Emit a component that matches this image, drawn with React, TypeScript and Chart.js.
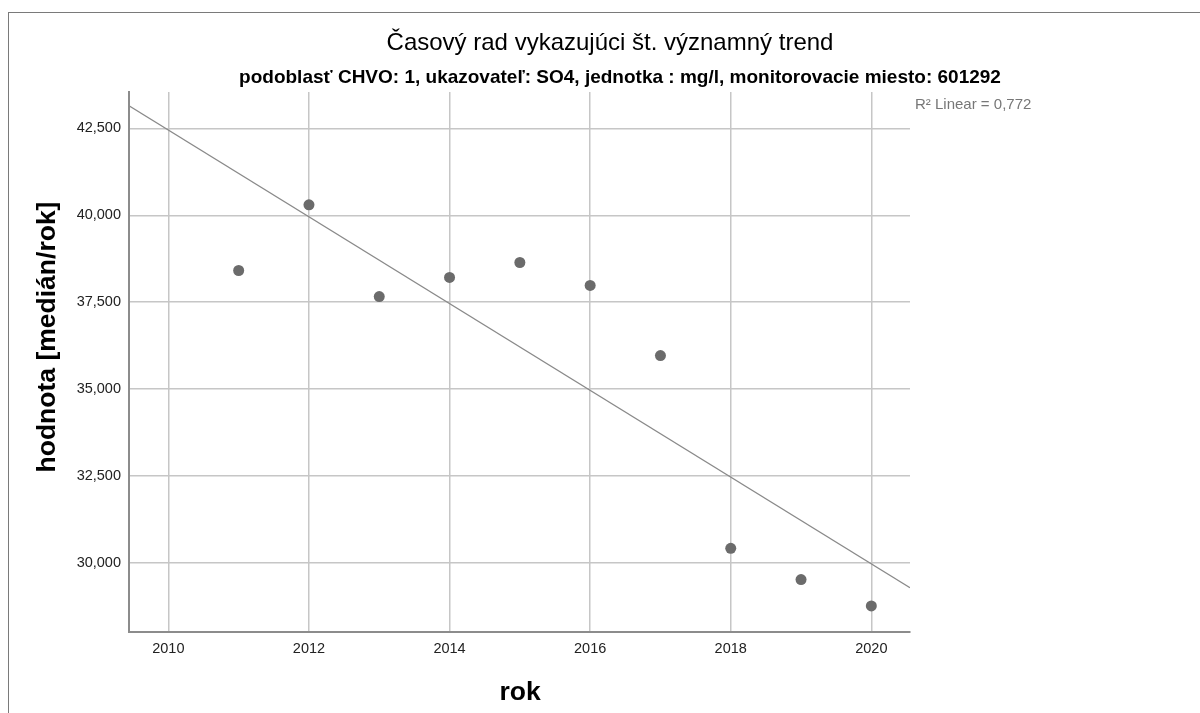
import React, { useEffect, useRef } from "react";
import { Chart, registerables } from "chart.js";

Chart.register(...registerables);

const years = [2011, 2012, 2013, 2014, 2015, 2016, 2017, 2018, 2019, 2020];
const values = [38.41, 40.3, 37.66, 38.21, 38.64, 37.98, 35.96, 30.41, 29.51, 28.75];
const yTicks = [30, 32.5, 35, 37.5, 40, 42.5];
const xTicks = [2010, 2012, 2014, 2016, 2018, 2020];
const titleText = "Časový rad vykazujúci št. významný trend";
const subtitleText =
  "podoblasť CHVO: 1, ukazovateľ: SO4, jednotka : mg/l, monitorovacie miesto: 601292";
const r2Label = "R² Linear = 0,772";
const xTitle = "rok";
const yTitle = "hodnota [medián/rok]";

const X_MIN = 2009.44;
const X_MAX = 2020.55;
const Y_MIN = 28.0;
const Y_MAX = 43.55;
const FONT = "'Liberation Sans', Arial, sans-serif";

function fit(xs: number[], ys: number[]) {
  const n = xs.length;
  const mx = xs.reduce((a, b) => a + b, 0) / n;
  const my = ys.reduce((a, b) => a + b, 0) / n;
  let sxx = 0;
  let sxy = 0;
  for (let i = 0; i < n; i++) {
    sxx += (xs[i] - mx) * (xs[i] - mx);
    sxy += (xs[i] - mx) * (ys[i] - my);
  }
  const slope = sxy / sxx;
  return { slope, intercept: my - slope * mx };
}

const textPlugin = {
  id: "textPlugin",
  afterDraw(chart: any) {
    const ctx = chart.ctx;
    ctx.save();
    ctx.fillStyle = "#000";
    ctx.textAlign = "center";
    ctx.textBaseline = "alphabetic";
    ctx.font = `24px ${FONT}`;
    ctx.fillText(titleText, 610, 50);
    ctx.font = `bold 19px ${FONT}`;
    ctx.fillText(subtitleText, 620, 83);
    // axis titles
    ctx.font = `bold 26.5px ${FONT}`;
    ctx.fillText(xTitle, 520, 700);
    ctx.save();
    ctx.translate(55, 337);
    ctx.rotate(-Math.PI / 2);
    ctx.fillText(yTitle, 0, 0);
    ctx.restore();
    // R² label
    ctx.textAlign = "left";
    ctx.textBaseline = "middle";
    ctx.fillStyle = "#777";
    ctx.font = `15px ${FONT}`;
    ctx.fillText(r2Label, 915, 105);
    ctx.restore();
  },
};

export default function App() {
  const ref = useRef<HTMLCanvasElement | null>(null);

  useEffect(() => {
    document.body.style.overflow = "hidden";
    const canvas = ref.current;
    if (!canvas) return;
    const { slope, intercept } = fit(years, values);
    const trend = [
      { x: X_MIN, y: intercept + slope * X_MIN },
      { x: X_MAX, y: intercept + slope * X_MAX },
    ];
    const points = years.map((x, i) => ({ x, y: values[i] }));

    const chart = new Chart(canvas, {
      type: "scatter",
      data: {
        datasets: [
          {
            type: "scatter",
            data: points,
            pointRadius: 5.5,
            pointHoverRadius: 5.5,
            pointBackgroundColor: "#6b6b6b",
            pointBorderWidth: 0,
            order: 1,
          },
          {
            type: "line",
            data: trend,
            borderColor: "#8a8a8a",
            borderWidth: 1.3,
            pointRadius: 0,
            fill: false,
            order: 2,
          },
        ],
      },
      options: {
        responsive: false,
        animation: false,
        devicePixelRatio: 1,
        layout: { padding: { left: 0, top: 92, right: 290, bottom: 0 } },
        plugins: {
          legend: { display: false },
          title: { display: false },
          tooltip: { enabled: false },
        },
        scales: {
          x: {
            type: "linear",
            min: X_MIN,
            max: X_MAX,
            afterBuildTicks: (s: any) => {
              s.ticks = xTicks.map((v) => ({ value: v }));
            },
            afterFit: (s: any) => {
              s.height = 81;
            },
            ticks: {
              color: "#222",
              font: { family: FONT, size: 14.5 },
              padding: 8,
              maxRotation: 0,
              callback: (v: any) => String(v),
            },
            grid: { color: "#c6c6c6", lineWidth: 1.5, drawTicks: false },
            border: { display: true, color: "#8c8c8c", width: 2 },
            title: { display: false },
          },
          y: {
            type: "linear",
            min: Y_MIN,
            max: Y_MAX,
            afterBuildTicks: (s: any) => {
              s.ticks = yTicks.map((v) => ({ value: v }));
            },
            afterFit: (s: any) => {
              s.width = 129;
            },
            ticks: {
              color: "#222",
              font: { family: FONT, size: 14.5 },
              padding: 8,
              callback: (v: any) => Number(v).toFixed(3).replace(".", ","),
            },
            grid: { color: "#c6c6c6", lineWidth: 1.5, drawTicks: false },
            border: { display: true, color: "#8c8c8c", width: 2 },
            title: { display: false },
          },
        },
      },
      plugins: [textPlugin],
    } as any);

    return () => chart.destroy();
  }, []);

  return (
    <div
      style={{
        position: "fixed",
        left: 0,
        top: 0,
        width: 1200,
        height: 713,
        overflow: "hidden",
        background: "#fff",
      }}
    >
      <div
        style={{
          position: "absolute",
          left: 8,
          top: 12,
          width: 1300,
          height: 800,
          borderLeft: "1px solid #7a7a7a",
          borderTop: "1px solid #7a7a7a",
        }}
      />
      <canvas
        ref={ref}
        width={1200}
        height={713}
        style={{ position: "absolute", left: 0, top: 0, width: 1200, height: 713 }}
      />
    </div>
  );
}
